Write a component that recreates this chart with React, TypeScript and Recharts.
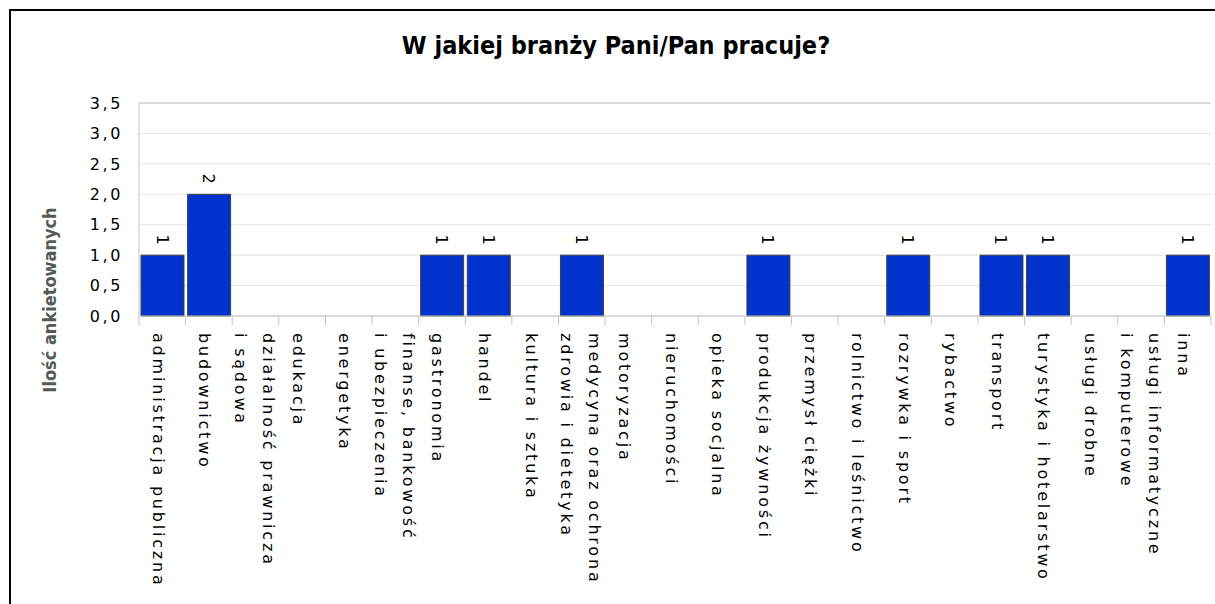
import React from 'react';
import { BarChart, Bar, XAxis, YAxis, CartesianGrid, LabelList, ReferenceLine } from 'recharts';

const title = 'W jakiej branży Pani/Pan pracuje?';
const yTitle = 'Ilość ankietowanych';

const categories: string[] = [
  'administracja publiczna',
  'budownictwo',
  'działalność prawnicza\ni sądowa',
  'edukacja',
  'energetyka',
  'finanse, bankowość\ni ubezpieczenia',
  'gastronomia',
  'handel',
  'kultura i sztuka',
  'medycyna oraz ochrona\nzdrowia i dietetyka',
  'motoryzacja',
  'nieruchomości',
  'opieka socjalna',
  'produkcja żywności',
  'przemysł ciężki',
  'rolnictwo i leśnictwo',
  'rozrywka i sport',
  'rybactwo',
  'transport',
  'turystyka i hotelarstwo',
  'usługi drobne',
  'usługi informatyczne\ni komputerowe',
  'inna',
];

const values: number[] = [1, 2, 0, 0, 0, 0, 1, 1, 0, 1, 0, 0, 0, 1, 0, 0, 1, 0, 1, 1, 0, 0, 1];

const yTicks: number[] = [0, 0.5, 1, 1.5, 2, 2.5, 3, 3.5];

const data = categories.map((name, i) => ({ name, value: values[i] }));

const fmt = (v: number) => v.toFixed(1).replace('.', ',');

const FONT = "'DejaVu Sans', Verdana, sans-serif";
const GRID = '#e4e4e4';
const BORDER = '#c4c4c4';

const XTick = (props: any) => {
  const { x, y, payload, index } = props;
  const half = payload && typeof payload.offset === 'number' ? payload.offset : 23.3;
  const axisY = y - 17;
  const lines = String(payload.value).split('\n');
  const offs = lines.length === 1 ? [9.5] : [-7.5, 20.5];
  return (
    <g>
      <line x1={x - half} x2={x - half} y1={axisY} y2={axisY + 9} stroke={BORDER} strokeWidth={1} />
      {index === categories.length - 1 ? (
        <line x1={x + half} x2={x + half} y1={axisY} y2={axisY + 9} stroke={BORDER} strokeWidth={1} />
      ) : null}
      <g transform={`translate(${x},${y}) rotate(90)`}>
        {lines.map((l, i) => (
          <text
            key={i}
            x={0}
            y={offs[i]}
            textAnchor="start"
            fontFamily={FONT}
            fontSize={16}
            letterSpacing={2.8}
            fill="#000"
          >
            {l}
          </text>
        ))}
      </g>
    </g>
  );
};

const BarLabel = (props: any) => {
  const { x, y, width, value } = props;
  if (!value) return null;
  const cx = Number(x) + Number(width) / 2;
  const cy = Number(y) - 15.6;
  return (
    <g transform={`translate(${cx},${cy}) rotate(90)`}>
      <text x={0} y={6} textAnchor="middle" fontFamily={FONT} fontSize={16} fill="#000">
        {value}
      </text>
    </g>
  );
};

const YTitle = () => (
  <text
    transform="translate(56,300) rotate(-90)"
    textAnchor="middle"
    fontFamily="'DejaVu Sans Condensed', 'DejaVu Sans', sans-serif"
    fontStretch="condensed"
    fontWeight="bold"
    fontSize={18}
    fill="#585858"
  >
    {yTitle}
  </text>
);

export default function App() {
  return (
    <div style={{ position: 'absolute', left: 0, top: 0, width: 1215, height: 604, background: '#fff', overflow: 'hidden' }}>
      <div
        style={{
          position: 'absolute',
          left: 9,
          top: 9,
          width: 1300,
          height: 700,
          borderLeft: '2px solid #000',
          borderTop: '2px solid #000',
        }}
      />
      <div
        style={{
          position: 'absolute',
          left: 0,
          top: 31,
          width: 1232,
          textAlign: 'center',
          fontFamily: "'DejaVu Sans Condensed', 'DejaVu Sans', sans-serif",
          fontStretch: 'condensed',
          fontWeight: 'bold',
          fontSize: 25,
          lineHeight: '30px',
          color: '#000',
          whiteSpace: 'nowrap',
        }}
      >
        {title}
      </div>
      <div style={{ position: 'absolute', left: 0, top: 0 }}>
        <BarChart
          width={1215}
          height={604}
          data={data}
          margin={{ top: 103, right: 4, left: 0, bottom: 0 }}
          barCategoryGap={2}
        >
          <CartesianGrid horizontal={true} vertical={false} stroke={GRID} />
          <ReferenceLine y={3.5} stroke={BORDER} ifOverflow="extendDomain" />
          <XAxis
            dataKey="name"
            interval={0}
            height={288}
            tickLine={false}
            tickSize={9}
            tickMargin={8}
            axisLine={{ stroke: BORDER }}
            tick={<XTick />}
          />
          <YAxis
            domain={[0, 3.5]}
            ticks={yTicks}
            interval={0}
            width={139}
            tickFormatter={fmt}
            tickLine={false}
            tickSize={6}
            tickMargin={10}
            axisLine={{ stroke: BORDER }}
            tick={{ fontFamily: FONT, fontSize: 16, fill: '#000', letterSpacing: 2.6 }}
            label={{ content: () => <YTitle /> }}
          />
          <YAxis
            yAxisId="r"
            orientation="right"
            width={0}
            domain={[0, 3.5]}
            tick={false}
            tickLine={false}
            axisLine={{ stroke: BORDER }}
          />
          <Bar dataKey="value" fill="#0033cc" stroke="#404040" strokeWidth={1} isAnimationActive={false}>
            <LabelList dataKey="value" content={<BarLabel />} />
          </Bar>
        </BarChart>
      </div>
    </div>
  );
}
